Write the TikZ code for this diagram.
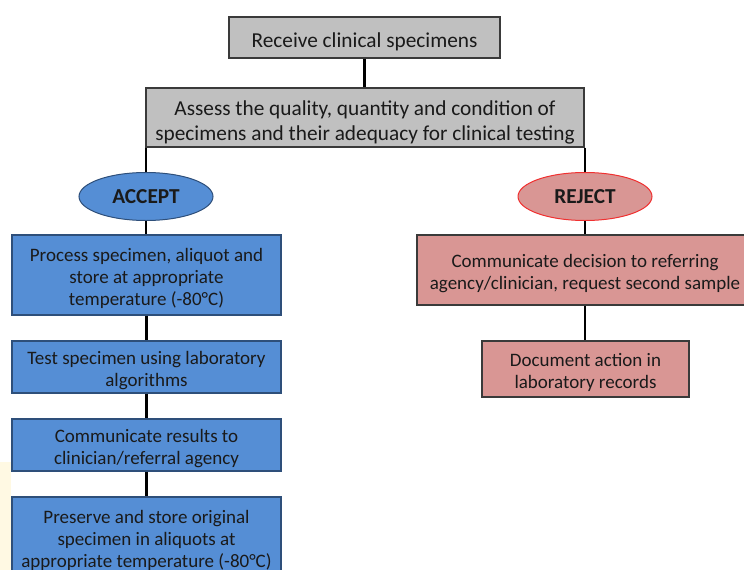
\documentclass[tikz,border=0pt]{standalone}
\usepackage{fontspec}
\setmainfont{Carlito}
\usetikzlibrary{shapes.geometric}
\definecolor{grayfill}{HTML}{C0C0C0}
\definecolor{grayline}{HTML}{3A3A3A}
\definecolor{bluefill}{HTML}{558ED5}
\definecolor{blueline}{HTML}{2E4F7A}
\definecolor{pinkfill}{HTML}{D99694}
\definecolor{pinkline}{HTML}{3A3A3A}
\definecolor{rejline}{HTML}{F03030}
\definecolor{txt}{HTML}{1A1A1A}
\definecolor{paleyellow}{HTML}{FFF9E3}
\begin{document}
\begin{tikzpicture}[x=1pt,y=-1pt,
  every node/.style={text=txt, align=center, inner sep=0pt},
  graytext/.style={font=\fontsize{21.3}{25}\selectfont, yshift=-4.5pt},
  coltext/.style={font=\fontsize{19}{22}\selectfont, yshift=-4pt},
  graybox/.style={draw=grayline, line width=1.2pt, fill=grayfill, rectangle},
  bluebox/.style={line width=1.2pt, rectangle, draw=blueline, fill=bluefill, minimum width=269pt},
  pinkbox/.style={line width=1.2pt, rectangle, draw=pinkline, fill=pinkfill},
  accepto/.style={ellipse, draw=blueline, line width=1pt, fill=bluefill, minimum width=134pt, minimum height=48pt, font=\fontsize{21.3}{22}\selectfont\bfseries},
  rejecto/.style={ellipse, draw=rejline, line width=1pt, fill=pinkfill, minimum width=134pt, minimum height=48pt, font=\fontsize{21.3}{22}\selectfont\bfseries},
  conn/.style={draw=black, line width=2.8pt}]
\useasboundingbox (0,0) rectangle (744,570);
\clip (0,0) rectangle (744,570);
\fill[paleyellow] (0,462) rectangle (11,570);

\node[graybox, minimum width=271pt, minimum height=41pt,
  label={[graytext]center:{Receive clinical specimens}}] (recv) at (364.5,37.5) {};
\node[graybox, minimum width=438pt, minimum height=59pt,
  label={[graytext]center:{Assess the quality, quantity and condition of\\specimens and their adequacy for clinical testing}}] (assess) at (365,117.5) {};
\node[accepto] (accept) at (146,196.5) {ACCEPT};
\node[rejecto] (reject) at (585,196.5) {REJECT};

\node[bluebox, minimum height=80pt,
  label={[coltext, yshift=1pt]center:{Process specimen, aliquot and\\store at appropriate\\temperature (-80°C)}}] (a1) at (146.5,275) {};
\node[bluebox, minimum height=52pt,
  label={[coltext]center:{Test specimen using laboratory\\algorithms}}] (a2) at (146.5,367) {};
\node[bluebox, minimum height=52pt,
  label={[coltext]center:{Communicate results to\\clinician/referral agency}}] (a3) at (146.5,445) {};
\node[bluebox, minimum height=82pt,
  label={[coltext, yshift=2pt]center:{Preserve and store original\\specimen in aliquots at\\appropriate temperature (-80°C)}}] (a4) at (146.5,538) {};

\node[pinkbox, minimum width=336pt, minimum height=70pt,
  label={[coltext]center:{Communicate decision to referring\\agency/clinician, request second sample}}] (r1) at (585,270) {};
\node[pinkbox, minimum width=207pt, minimum height=56pt,
  label={[coltext, yshift=1pt]center:{Document action in\\laboratory records}}] (r2) at (585.5,369) {};

\draw[conn] (recv.south) -- (recv.south |- assess.north);
\draw[conn] (assess.south -| accept.north) -- (accept.north);
\draw[conn] (assess.south -| reject.north) -- (reject.north);
\draw[conn] (accept.south) -- (a1.north -| accept.south);
\draw[conn] (a1.south) -- (a2.north);
\draw[conn] (a2.south) -- (a3.north);
\draw[conn] (a3.south) -- (a4.north);
\draw[conn] (reject.south) -- (r1.north -| reject.south);
\draw[conn] (r1.south -| reject.south) -- (r2.north -| reject.south);
\end{tikzpicture}
\end{document}
